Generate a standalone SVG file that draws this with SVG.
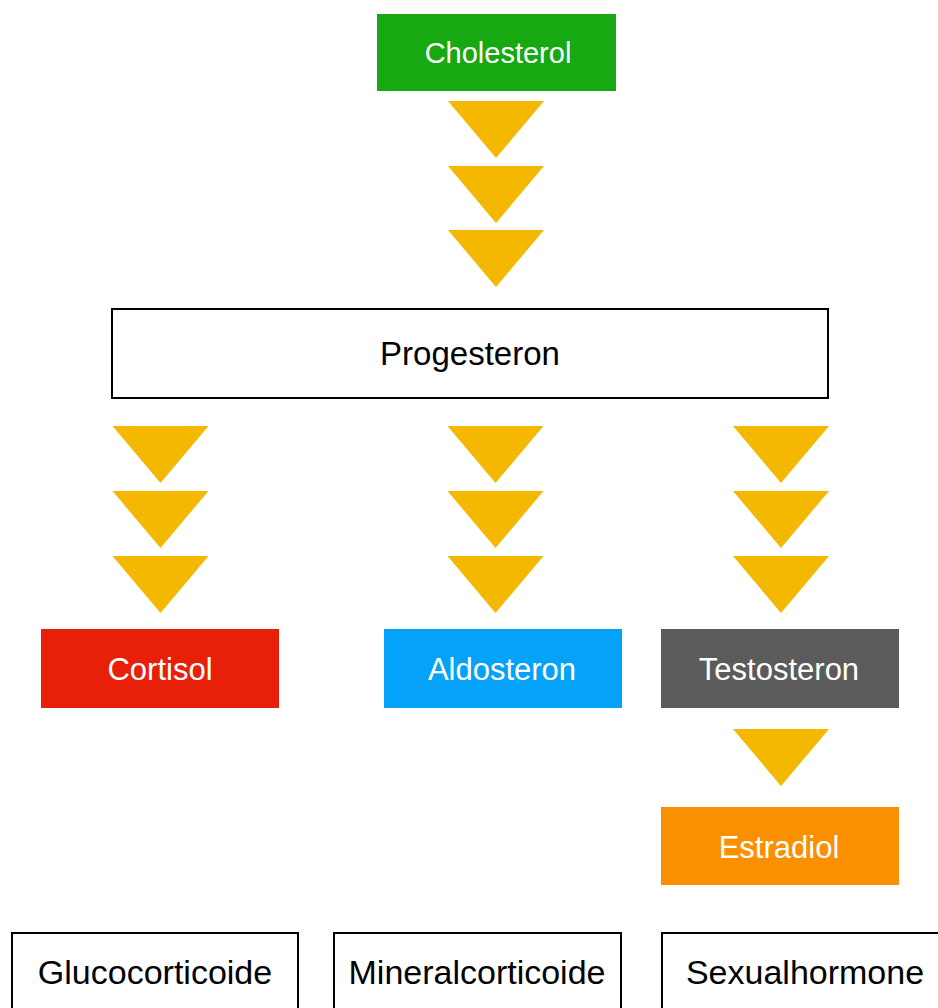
<svg xmlns="http://www.w3.org/2000/svg" width="938" height="1008" viewBox="0 0 938 1008">
<style>
.lbl{font-family:"Liberation Sans",Arial,Helvetica,sans-serif;text-anchor:middle}
.w{fill:#ffffff;font-size:31px}
.b{fill:#000000}
.box{fill:#ffffff;stroke:#000000;stroke-width:2}
.tri{fill:#f5b800}
</style>
<defs>
<polygon id="arrow" class="tri" points="-48,0 48,0 0,57"/>
</defs>
<rect width="938" height="1008" fill="#ffffff"/>
<g id="connectors">
<use href="#arrow" x="496" y="101"/>
<use href="#arrow" x="496" y="166"/>
<use href="#arrow" x="496" y="230"/>
<use href="#arrow" x="160.5" y="426"/>
<use href="#arrow" x="160.5" y="491"/>
<use href="#arrow" x="160.5" y="556"/>
<use href="#arrow" x="495.5" y="426"/>
<use href="#arrow" x="495.5" y="491"/>
<use href="#arrow" x="495.5" y="556"/>
<use href="#arrow" x="781" y="426"/>
<use href="#arrow" x="781" y="491"/>
<use href="#arrow" x="781" y="556"/>
<use href="#arrow" x="781" y="729"/>
</g>
<g id="cholesterol">
<rect x="377" y="14" width="239" height="77" fill="#16a912"/>
<text class="lbl w" x="498" y="63" font-size="29" style="font-size:29px">Cholesterol</text>
</g>
<g id="progesteron">
<rect class="box" x="112" y="309" width="716" height="89"/>
<text class="lbl b" x="470" y="365" font-size="33">Progesteron</text>
</g>
<g id="cortisol">
<rect x="41" y="629" width="238" height="79" fill="#e8200a"/>
<text class="lbl w" x="160" y="680">Cortisol</text>
</g>
<g id="aldosteron">
<rect x="384" y="629" width="238" height="79" fill="#05a2fa"/>
<text class="lbl w" x="502" y="680">Aldosteron</text>
</g>
<g id="testosteron">
<rect x="661" y="629" width="238" height="79" fill="#5b5b5b"/>
<text class="lbl w" x="779" y="680">Testosteron</text>
</g>
<g id="estradiol">
<rect x="661" y="807" width="238" height="78" fill="#fa9000"/>
<text class="lbl w" x="779" y="858">Estradiol</text>
</g>
<g id="glucocorticoide">
<rect class="box" x="12" y="933" width="286" height="90"/>
<text class="lbl b" x="155" y="984" font-size="34">Glucocorticoide</text>
</g>
<g id="mineralcorticoide">
<rect class="box" x="334" y="933" width="287" height="90"/>
<text class="lbl b" x="477" y="984" font-size="34">Mineralcorticoide</text>
</g>
<g id="sexualhormone">
<rect class="box" x="662" y="933" width="290" height="90"/>
<text class="lbl b" x="805" y="984" font-size="34">Sexualhormone</text>
</g>
</svg>
